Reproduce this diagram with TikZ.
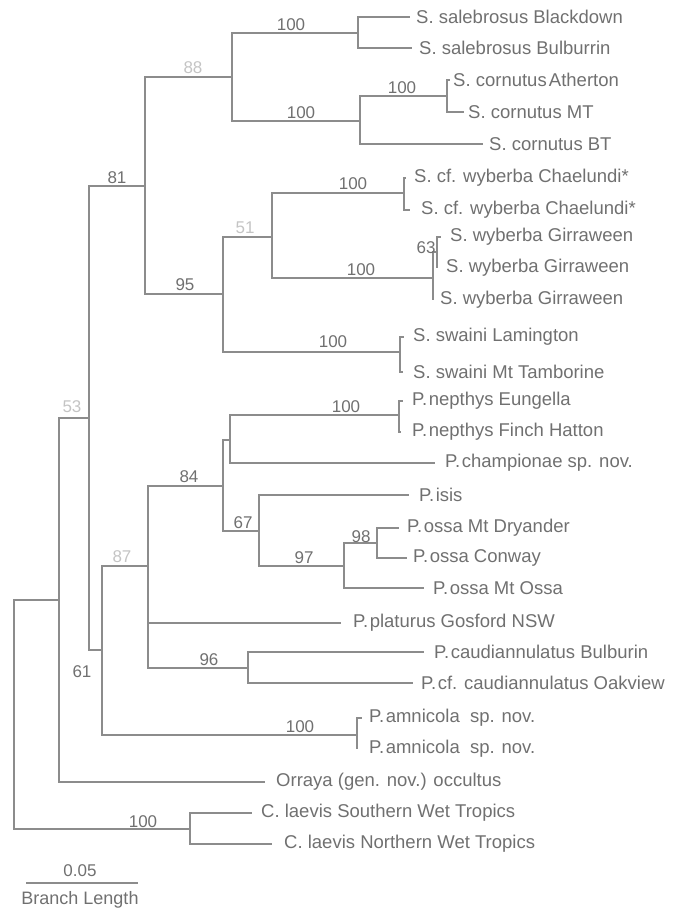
\documentclass[tikz,border=0pt]{standalone}
\usepackage{fontspec}
\setmainfont{Liberation Sans}
\definecolor{linegray}{HTML}{8C8C8C}
\definecolor{txtgray}{HTML}{707070}
\definecolor{faintgray}{HTML}{C4C4C4}
\newcommand{\Pg}{P.\hspace{0.08em}}
\begin{document}
\begin{tikzpicture}[x=1pt,y=-1pt,
  br/.style={draw=linegray, line width=1.3pt},
  leaf/.style={font=\fontsize{18.5}{20}\selectfont, text=txtgray, anchor=west, inner sep=0pt},
  bs/.style={font=\fontsize{17}{19}\selectfont, text=txtgray, inner sep=0pt},
  faint/.style={bs, text=faintgray}]
\useasboundingbox (0,0) rectangle (682,910);
% internal nodes
\coordinate (R) at (14,714);
\coordinate (A) at (59,600);
\coordinate (B) at (89,418);
\coordinate (K) at (145,186);
\coordinate (L) at (232,77);
\coordinate (Sal) at (358,33);
\coordinate (Corn) at (360,121);
\coordinate (CS) at (447,96);
\coordinate (M) at (223,294);
\coordinate (N) at (272,237);
\coordinate (Ch) at (404,193);
\coordinate (Gi) at (433,278);
\coordinate (G63) at (437,252);
\coordinate (Sw) at (400,352);
\coordinate (C) at (102,650);
\coordinate (D) at (148,566);
\coordinate (E) at (223,486);
\coordinate (F) at (230,440);
\coordinate (Nep) at (399,415);
\coordinate (G) at (259,531);
\coordinate (H) at (344,566);
\coordinate (I) at (377,543);
\coordinate (J) at (248,668);
\coordinate (Am) at (357,735);
\coordinate (Cl) at (190,829);
% leaf ends
\coordinate (sal1) at (410,17);
\coordinate (sal2) at (412,48);
\coordinate (ath) at (450,80);
\coordinate (mt) at (464,112);
\coordinate (bt) at (483,144);
\coordinate (ch1) at (406,178);
\coordinate (ch2) at (410,210);
\coordinate (gi1) at (441,237);
\coordinate (gi2) at (437,268);
\coordinate (gi3) at (433,300);
\coordinate (sw1) at (404,337);
\coordinate (sw2) at (403,372);
\coordinate (nep1) at (403,401);
\coordinate (nep2) at (401,432);
\coordinate (champ) at (435,463);
\coordinate (isis) at (409,495);
\coordinate (dry) at (399,528);
\coordinate (con) at (407,558);
\coordinate (mto) at (424,588);
\coordinate (plat) at (341,623);
\coordinate (bul) at (424,652);
\coordinate (oak) at (413,683);
\coordinate (am1) at (362,718);
\coordinate (am2) at (357,749);
\coordinate (orr) at (265,782);
\coordinate (cls) at (252,813);
\coordinate (cln) at (272,844);
% branches
\draw[br] (R) |- (A);
\draw[br] (R) |- (Cl);
\draw[br] (A) |- (B);
\draw[br] (A) |- (orr);
\draw[br] (B) |- (K);
\draw[br] (B) |- (C);
\draw[br] (K) |- (L);
\draw[br] (K) |- (M);
\draw[br] (L) |- (Sal);
\draw[br] (L) |- (Corn);
\draw[br] (Sal) |- (sal1);
\draw[br] (Sal) |- (sal2);
\draw[br] (Corn) |- (CS);
\draw[br] (Corn) |- (bt);
\draw[br] (CS) |- (ath);
\draw[br] (CS) |- (mt);
\draw[br] (M) |- (N);
\draw[br] (M) |- (Sw);
\draw[br] (N) |- (Ch);
\draw[br] (N) |- (Gi);
\draw[br] (Ch) |- (ch1);
\draw[br] (Ch) |- (ch2);
\draw[br] (Gi) |- (G63);
\draw[br] (Gi) |- (gi3);
\draw[br] (G63) |- (gi1);
\draw[br] (G63) |- (gi2);
\draw[br] (Sw) |- (sw1);
\draw[br] (Sw) |- (sw2);
\draw[br] (C) |- (D);
\draw[br] (C) |- (Am);
\draw[br] (D) |- (E);
\draw[br] (D) |- (plat);
\draw[br] (D) |- (J);
\draw[br] (E) |- (F);
\draw[br] (E) |- (G);
\draw[br] (F) |- (Nep);
\draw[br] (F) |- (champ);
\draw[br] (Nep) |- (nep1);
\draw[br] (Nep) |- (nep2);
\draw[br] (G) |- (isis);
\draw[br] (G) |- (H);
\draw[br] (H) |- (I);
\draw[br] (H) |- (mto);
\draw[br] (I) |- (dry);
\draw[br] (I) |- (con);
\draw[br] (J) |- (bul);
\draw[br] (J) |- (oak);
\draw[br] (Am) |- (am1);
\draw[br] (Am) |- (am2);
\draw[br] (Cl) |- (cls);
\draw[br] (Cl) |- (cln);
% leaf labels
\node[leaf] (tsal1) at (416,17) {S. salebrosus Blackdown};
\node[leaf] (tsal2) at (419,48) {S. salebrosus Bulburrin};
\node[leaf] (tath) at (453,80) {S. cornutus\hspace{0.12em}Atherton};
\node[leaf] (tmt) at (468,112) {S. cornutus MT};
\node[leaf] (tbt) at (489,144) {S. cornutus BT};
\node[leaf] (tch1) at (414,178) {S. cf. wyberba Chaelundi*};
\node[leaf] (tch2) at (421,210) {S. cf. wyberba Chaelundi*};
\node[leaf] (tgi1) at (450,237) {S. wyberba Girraween};
\node[leaf] (tgi2) at (446,268) {S. wyberba Girraween};
\node[leaf] (tgi3) at (440,300) {S. wyberba Girraween};
\node[leaf] (tsw1) at (413,337) {S. swaini Lamington};
\node[leaf] (tsw2) at (413,372) {S. swaini Mt Tamborine};
\node[leaf] (tnep1) at (412,401) {\Pg nepthys Eungella};
\node[leaf] (tnep2) at (412,432) {\Pg nepthys Finch Hatton};
\node[leaf] (tchamp) at (445,463) {\Pg championae sp. nov.};
\node[leaf] (tisis) at (419,495) {\Pg isis};
\node[leaf] (tdry) at (407,528) {\Pg ossa Mt Dryander};
\node[leaf] (tcon) at (413,558) {\Pg ossa Conway};
\node[leaf] (tmto) at (433,588) {\Pg ossa Mt Ossa};
\node[leaf] (tplat) at (353,623) {\Pg platurus Gosford NSW};
\node[leaf] (tbul) at (434,652) {\Pg caudiannulatus Bulburin};
\node[leaf] (toak) at (421,683) {\Pg cf. caudiannulatus Oakview};
\node[leaf] (tam1) at (369,718) {\Pg amnicola\ \ sp. nov.};
\node[leaf] (tam2) at (369,749) {\Pg amnicola\ \ sp. nov.};
\node[leaf] (torr) at (276,782) {Orraya (gen. nov.) occultus};
\node[leaf] (tcls) at (261,813) {C. laevis Southern Wet Tropics};
\node[leaf] (tcln) at (284,844) {C. laevis Northern Wet Tropics};
% support values
\node[bs] (b1) at (291,25) {100};
\node[faint] (b2) at (193,68) {88};
\node[bs] (b3) at (301,113) {100};
\node[bs] (b4) at (402,88) {100};
\node[bs] (b5) at (117,178) {81};
\node[bs] (b6) at (353,184) {100};
\node[faint] (b7) at (245,228) {51};
\node[bs] (b8) at (426,248) {63};
\node[bs] (b9) at (361,270) {100};
\node[bs] (b10) at (185,285) {95};
\node[bs] (b11) at (333,342) {100};
\node[faint] (b12) at (72,407) {53};
\node[bs] (b13) at (346,407) {100};
\node[bs] (b14) at (189,477) {84};
\node[bs] (b15) at (243,523) {67};
\node[bs] (b16) at (361,537) {98};
\node[bs] (b17) at (304,558) {97};
\node[faint] (b18) at (122,557) {87};
\node[bs] (b19) at (209,660) {96};
\node[bs] (b20) at (82,672) {61};
\node[bs] (b21) at (300,727) {100};
\node[bs] (b22) at (143,822) {100};
% scale bar
\coordinate (sb1) at (26,883);
\coordinate (sb2) at (138,883);
\draw[br] (sb1) -- (sb2);
\node[bs] (sbv) at (80,871) {0.05};
\node[bs, font=\fontsize{18}{20}\selectfont] (sbl) at (80,900) {Branch Length};
\end{tikzpicture}
\end{document}
